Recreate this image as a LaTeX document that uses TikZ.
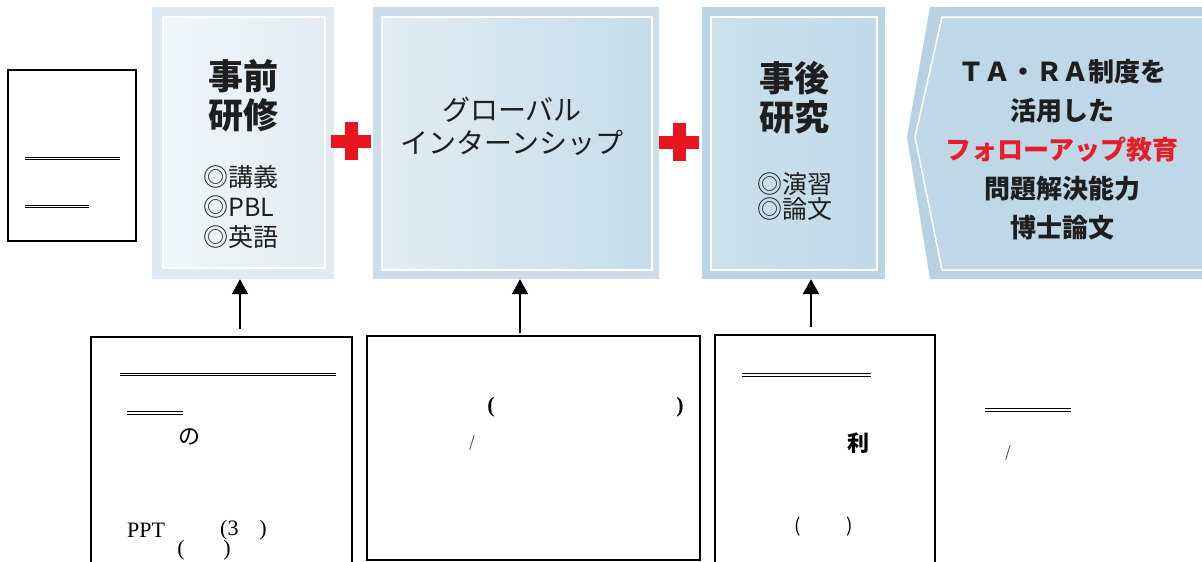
\documentclass[tikz,border=0pt]{standalone}
\usepackage{fontspec}
\setmainfont{Liberation Serif}
\newfontfamily\jp{Noto Sans CJK JP}
\usetikzlibrary{arrows.meta}
\definecolor{fr1}{HTML}{E0EAF2}
\definecolor{in1a}{HTML}{F1F6FA}
\definecolor{in1b}{HTML}{E2ECF3}
\definecolor{fr2}{HTML}{CADDE9}
\definecolor{in2a}{HTML}{E2EDF4}
\definecolor{in2b}{HTML}{C6DCEA}
\definecolor{fr3}{HTML}{BAD4E4}
\definecolor{in3a}{HTML}{CCE0EC}
\definecolor{in3b}{HTML}{C2DAE9}
\definecolor{fr4}{HTML}{B6D2E3}
\definecolor{in4}{HTML}{BFD8E8}
\definecolor{plusred}{HTML}{E8141E}
\definecolor{txt}{HTML}{1E1E1E}
\definecolor{redtxt}{HTML}{E61E28}
\tikzset{
  x=1pt, y=-1pt,
  panel/.style={inner sep=0pt, minimum width=#1},
  innerline/.style={draw=white, line width=1.5pt},
  head/.style={align=center, text=txt, font=\jp\bfseries\fontsize{35}{39}\selectfont},
  sub/.style={align=left, text=txt, font=\jp\fontsize{24}{30}\selectfont},
  bbox/.style={draw=black, line width=2pt},
  dline/.style={draw=black, double=white, double distance=1.6pt, line width=0.9pt},
  arr/.style={draw=black, line width=2.3pt, -{Triangle[width=16pt,length=15pt]}},
  btxt/.style={text=black, inner sep=0pt, font=\fontsize{22}{26}\selectfont},
  plusarm/.style={fill=plusred, inner sep=0pt}
}
\begin{document}
\begin{tikzpicture}
\clip (0,0) rectangle (1202,562);
\fill[white] (0,0) rectangle (1202,562);

% ---- top panels ----
\node[panel=182pt, minimum height=272pt, fill=fr1] (pre) at (243,143) {};
\shade[left color=in1a, right color=in1b, innerline] (163,17) rectangle (325,268);
\node[panel=286pt, minimum height=272pt, fill=fr2] (gi) at (516,143) {};
\shade[left color=in2a, right color=in2b, innerline] (382,17) rectangle (652,270);
\node[panel=183pt, minimum height=272pt, fill=fr3] (post) at (793.5,143) {};
\shade[left color=in3a, right color=in3b, innerline] (711,17) rectangle (877,270);
\fill[fr4] (930,7) -- (1210,7) -- (1210,279) -- (930,279) -- (907,137) -- cycle;
\filldraw[fill=in4, innerline] (942,17) -- (1215,17) -- (1215,270) -- (942,270) -- (915,137) -- cycle;

% ---- panel texts ----
\node[head] (preh) at (243,96) {事前\\研修};
\node[sub, font=\jp\fontsize{25}{30}\selectfont] (pres) at (241,207) {◎講義\\◎PBL\\◎英語};
\node[align=center, text=txt, font=\jp\fontsize{28}{33}\selectfont] (gih) at (512,126) {グローバル\\インターンシップ};
\node[head] (posth) at (794,98) {事後\\研究};
\node[sub, font=\jp\fontsize{25}{25}\selectfont] (posts) at (795,197) {◎演習\\◎論文};
\node[align=center, text=txt, font=\jp\bfseries\fontsize{26}{39}\selectfont] (fuh) at (1062,150)
  {ＴＡ・ＲＡ制度を\\活用した\\\textcolor{redtxt}{フォローアップ教育}\\問題解決能力\\博士論文};

% ---- plus signs ----
\node[minimum width=40pt, minimum height=13pt, plusarm] (p1h) at (351,141) {};
\node[minimum width=13pt, minimum height=38pt, plusarm] (p1v) at (351,141) {};
\node[minimum width=40pt, minimum height=13pt, plusarm] (p2h) at (679,142) {};
\node[minimum width=13pt, minimum height=38pt, plusarm] (p2v) at (679,142) {};

% ---- left box ----
\node[draw=black, line width=1.5pt, minimum width=128pt, minimum height=171pt, inner sep=0pt] (lb) at (72,155.5) {};
\draw[dline] (25,158.5) -- (120,158.5);
\draw[dline] (25,206.5) -- (89,206.5);

% ---- bottom boxes ----
\draw[bbox] (91,575) -- (91,337) -- (352,337) -- (352,575);
\draw[bbox] (367,336) rectangle (700,560);
\draw[bbox] (715,575) -- (715,335) -- (935,335) -- (935,575);

\draw[dline] (120,374.5) -- (336,374.5);
\draw[dline] (127,413) -- (183,413);
\node[btxt, font=\jp\itshape\fontsize{22}{24}\selectfont] (no) at (189,437) {の};
\node[btxt, anchor=west] (ppt) at (127,530) {PPT};
\node[btxt, anchor=west] (p3) at (220,530) {(3};
\node[btxt] (p3r) at (263,530) {)};
\node[btxt] (pl1) at (181,550) {(};
\node[btxt] (pr1) at (227,550) {)};

\node[btxt, font=\bfseries\fontsize{22}{24}\selectfont] (pl2) at (491,407) {(};
\node[btxt, font=\bfseries\fontsize{22}{24}\selectfont] (pr2) at (680,407) {)};
\node[btxt, text=black!70, font=\jp\fontsize{15}{16}\selectfont] (sl2) at (472,443) {/};

\draw[dline] (742,375) -- (871,375);
\node[btxt, font=\jp\bfseries\fontsize{22}{24}\selectfont] (ri) at (858,443) {利};
\node[btxt, font=\jp\fontsize{19}{24}\selectfont] (pl3) at (798,527) {(};
\node[btxt, font=\jp\fontsize{19}{24}\selectfont] (pr3) at (850,527) {)};

\draw[dline] (985,410) -- (1071,410);
\node[btxt, text=black!70, font=\jp\fontsize{15}{16}\selectfont] (sl4) at (1008,453) {/};

% ---- arrows ----
\coordinate (a1) at (240,329);
\coordinate (a2) at (520,333);
\coordinate (a3) at (811,327);
\draw[arr] (a1) -- (a1 |- pre.south);
\draw[arr] (a2) -- (a2 |- gi.south);
\draw[arr] (a3) -- (a3 |- post.south);
\end{tikzpicture}
\end{document}
